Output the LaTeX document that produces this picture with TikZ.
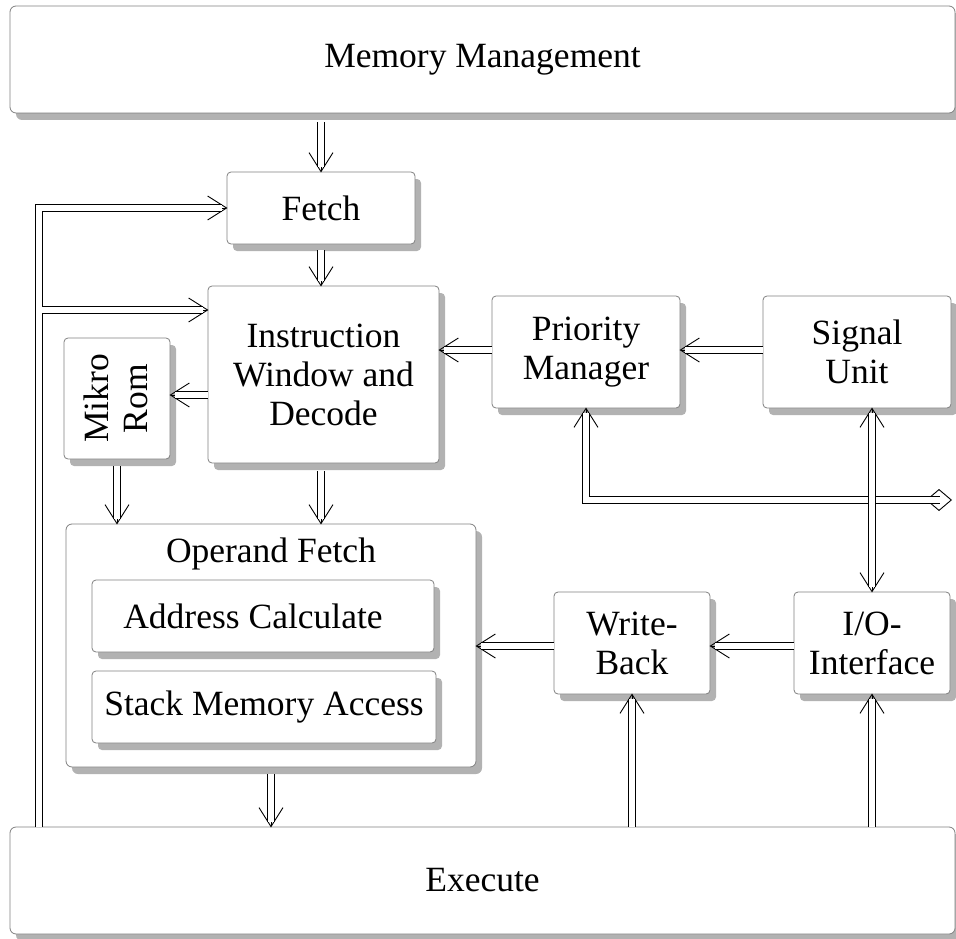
\documentclass[tikz,border=0pt]{standalone}
\usepackage{fontspec}
\setmainfont{Liberation Serif}
\usepackage{graphicx}
\usetikzlibrary{arrows.meta, shadows}

\newcommand{\boxfont}{\fontsize{35.5pt}{39pt}\selectfont}

% plain open V head
\pgfdeclarearrow{
  name = OpenVee,
  parameters = {\the\pgfarrowlength,\the\pgfarrowwidth},
  setup code = {
    \pgfarrowssettipend{0pt}
    \pgfarrowssetlineend{-1pt}
    \pgfarrowssetbackend{-\pgfarrowlength}
    \pgfarrowssetvisualbackend{-\pgfarrowlength}
    \pgfarrowshullpoint{0pt}{0pt}
    \pgfarrowshullpoint{-\pgfarrowlength}{.5\pgfarrowwidth}
    \pgfarrowshullpoint{-\pgfarrowlength}{-.5\pgfarrowwidth}
    \pgfarrowssavethe\pgfarrowlength
    \pgfarrowssavethe\pgfarrowwidth
  },
  drawing code = {
    \pgfsetdash{}{0pt}
    \pgfsetmiterjoin
    \pgfpathmoveto{\pgfqpoint{-\pgfarrowlength}{.5\pgfarrowwidth}}
    \pgfpathlineto{\pgfpointorigin}
    \pgfpathlineto{\pgfqpoint{-\pgfarrowlength}{-.5\pgfarrowwidth}}
    \pgfusepathqstroke
  },
  defaults = {length = 18pt, width = 23pt}
}

\tikzset{
  barb/.tip={OpenVee[length=19pt,width=24pt]},
  box/.style={draw=black!50, line width=0.8pt, fill=white, rounded corners=4pt,
    drop shadow={shadow xshift=6pt, shadow yshift=-7pt, fill=black!30, opacity=1},
    align=center, inner sep=0pt, font=\boxfont},
  dbl/.style={postaction={draw, -, line width=0.9pt, double, double distance=6pt, #1}},
  flow/.style={line width=0.9pt, -barb, dbl={shorten >=5pt}},
  flowtwo/.style={line width=0.9pt, barb-barb, dbl={shorten >=5pt, shorten <=5pt}},
}

\begin{document}
\begin{tikzpicture}[x=1pt, y=-1pt]
  \useasboundingbox (0,0) rectangle (956,939);
  % boxes
  \node[box, rounded corners=6pt, minimum width=945pt, minimum height=107pt] (mem) at (482.5,59.5) {Memory Management};
  \node[box, minimum width=188pt, minimum height=72pt] (fetch) at (321,208) {Fetch};
  \node[box, minimum width=231pt, minimum height=177pt] (instr) at (323.5,374.5) {Instruction\\Window and\\Decode};
  \node[box, minimum width=188pt, minimum height=112pt] (prio) at (586,352) {Priority\\Manager};
  \node[box, minimum width=188pt, minimum height=112pt] (sig) at (857,352) {Signal\\Unit};
  \node[box, minimum width=106pt, minimum height=121pt] (mikro) at (117,398.5)
    {\hspace*{7pt}\rotatebox{90}{\begin{tabular}{@{}c@{}}Mikro\\Rom\end{tabular}}};
  \node[box, rounded corners=6pt, minimum width=410pt, minimum height=243pt] (opf) at (271,645.5) {};
  \node[font=\boxfont, anchor=base] (opflabel) at (271,562) {Operand Fetch};
  \node[box, minimum width=342pt, minimum height=72pt] (addr) at (263,616) {Address Calculate\hspace*{20pt}};
  \node[box, minimum width=344pt, minimum height=72pt] (stack) at (264,707) {Stack Memory Access};
  \node[box, minimum width=156pt, minimum height=102pt] (wb) at (632,643) {Write-\\Back};
  \node[box, minimum width=156pt, minimum height=102pt] (io) at (872,643) {I/O-\\Interface};
  \node[box, rounded corners=6pt, minimum width=945pt, minimum height=107pt] (exec) at (482.5,880.5) {Execute};

  % connectors
  \draw[flow] ([yshift=-9pt]fetch.north |- mem.south) -- (fetch.north);
  \draw[flow] ([yshift=-6pt]fetch.south) -- (fetch.south |- instr.north);
  \draw[flow] ([yshift=-8pt]fetch.south |- instr.south) -- (fetch.south |- opf.north);
  \draw[flow] ([yshift=-7pt]mikro.south) -- (mikro.south |- opf.north);
  \draw[flow] ([yshift=-7pt]opf.south) -- (opf.south |- exec.north);
  \draw[flow] ([yshift=-20.5pt]instr.west) -- ([yshift=-20.5pt]instr.west -| mikro.east);
  \draw[flow] ([yshift=2pt]prio.west) -- ([yshift=2pt]prio.west -| instr.east);
  \draw[flow] ([yshift=2pt]sig.west) -- ([yshift=2pt]sig.west -| prio.east);
  \draw[flow] ([yshift=-3pt]wb.west) -- ([yshift=-3pt]wb.west -| opf.east);
  \draw[flow] ([yshift=-3pt]io.west) -- ([yshift=-3pt]io.west -| wb.east);
  \draw[flow] (wb.south |- exec.north) -- (wb.south);
  \draw[flow] (io.south |- exec.north) -- (io.south);

  % loop back from execute
  \coordinate (loopfoot) at (39,827);
  \coordinate (loopjoin) at (42,310);
  \draw[flow] (loopfoot) |- (fetch.west);
  \draw[flow] (loopjoin) -- (loopjoin -| instr.west);

  % bus to the right, signal line crosses it
  \coordinate (busend) at (952,500);
  \draw[line width=0.9pt, barb-{Diamond[open,length=26pt,width=22pt]},
    dbl={shorten <=5pt, shorten >=12pt}] (prio.south) |- (busend);
  \draw[flowtwo] (io.north |- sig.south) -- (io.north);
\end{tikzpicture}
\end{document}
